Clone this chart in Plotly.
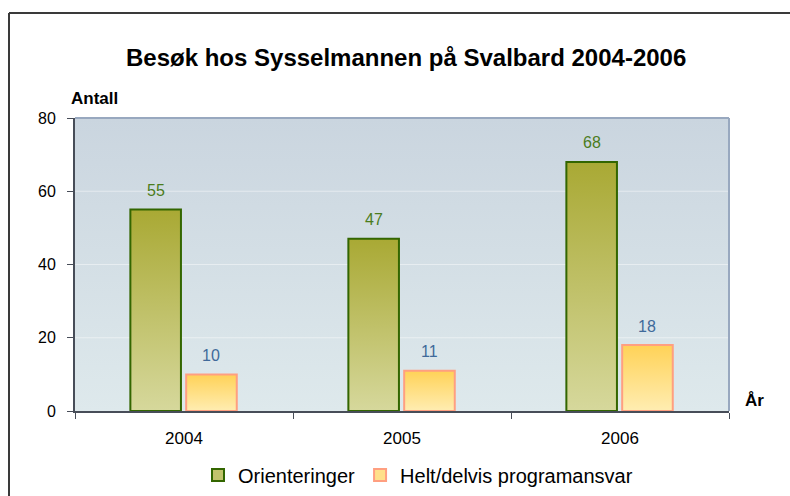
import plotly.graph_objects as go

# ---------------- data ----------------
years = ["2004", "2005", "2006"]
orienteringer = [55, 47, 68]
programansvar = [10, 11, 18]
y_ticks = [0, 20, 40, 60, 80]
series_names = ["Orienteringer", "Helt/delvis programansvar"]
title_text = "Besøk hos Sysselmannen på Svalbard 2004-2006"
y_title = "Antall"
x_title = "År"

# ---------------- style ----------------
FONT = "Liberation Sans, Arial, sans-serif"
W, H = 790, 496
# plot area in screen pixels
PL, PR, PT, PB = 75, 729, 118, 411
ML, MT = PL, PT
MR, MB = W - PR, H - PB
PW, PH = PR - PL, PB - PT


def px(x):
    return (x - PL) / PW


def py(y):
    return (PB - y) / PH


BAR_W = 0.232
OFFSETS = [-0.246, 0.010]
series = [
    dict(values=orienteringer, name=series_names[0], line="#336600",
         grad=[[0, "#d6d89c"], [1, "#a9a934"]], legend="#c2c36c", label="#4b7c1c"),
    dict(values=programansvar, name=series_names[1], line="#ff9f80",
         grad=[[0, "#ffedb2"], [1, "#ffd257"]], legend="#ffe08a", label="#3f6a9a"),
]
BG_GRAD = [[0, "#dee9ec"], [1, "#cad5df"]]

x_min, x_max = -0.5, len(years) - 0.5
y_min, y_max = y_ticks[0], y_ticks[-1]

fig = go.Figure()

# plot-area gradient background
fig.add_trace(go.Scatter(
    x=[x_min, x_min, x_max, x_max, x_min],
    y=[y_min, y_max, y_max, y_min, y_min],
    fill="toself", mode="none",
    fillgradient=dict(type="vertical", colorscale=BG_GRAD),
    showlegend=False, hoverinfo="skip"))

# gridlines (above background, below bars)
for t in y_ticks[1:-1]:
    fig.add_trace(go.Scatter(
        x=[x_min, x_max], y=[t, t], mode="lines",
        line=dict(color="rgba(255,255,255,0.45)", width=1),
        showlegend=False, hoverinfo="skip"))

# bars with vertical gradient
annotations = []
for s, off in zip(series, OFFSETS):
    for i, (yr, v) in enumerate(zip(years, s["values"])):
        x0, x1 = i + off, i + off + BAR_W
        fig.add_trace(go.Scatter(
            x=[x0, x0, x1, x1, x0], y=[0, v, v, 0, 0],
            fill="toself", mode="lines",
            line=dict(color=s["line"], width=2),
            fillgradient=dict(type="vertical", colorscale=s["grad"]),
            showlegend=False, name=s["name"],
            hovertemplate=f"{s['name']}<br>{yr}: {v}<extra></extra>"))
        annotations.append(dict(
            x=(x0 + x1) / 2, y=v, xref="x", yref="y", text=str(v),
            showarrow=False, yshift=19, yanchor="middle",
            font=dict(family=FONT, size=16, color=s["label"])))

# legend-only entries
for s in series:
    fig.add_trace(go.Scatter(
        x=[None], y=[None], mode="markers", name=s["name"],
        marker=dict(symbol="square", size=12, color=s["legend"],
                    line=dict(color=s["line"], width=2))))

# titles
annotations += [
    dict(text=f"<b>{title_text}</b>", xref="paper", yref="paper",
         x=px(406), y=py(57), showarrow=False,
         xanchor="center", yanchor="middle",
         font=dict(family=FONT, size=24, color="#000000")),
    dict(text=f"<b>{y_title}</b>", xref="paper", yref="paper",
         x=px(69), y=py(98), showarrow=False,
         xanchor="left", yanchor="middle",
         font=dict(family=FONT, size=17, color="#000000")),
    dict(text=f"<b>{x_title}</b>", xref="paper", yref="paper",
         x=px(754), y=py(400), showarrow=False,
         xanchor="center", yanchor="middle",
         font=dict(family=FONT, size=17, color="#000000")),
]

shapes = [
    # outer chart border: only top and left edges fall inside the picture
    dict(type="line", xref="paper", yref="paper",
         x0=px(9), x1=px(900), y0=py(13), y1=py(13),
         line=dict(color="#3a3a3a", width=2)),
    dict(type="line", xref="paper", yref="paper",
         x0=px(9), x1=px(9), y0=py(13), y1=py(600),
         line=dict(color="#3a3a3a", width=2)),
    # top and right plot-area border
    dict(type="line", xref="paper", yref="paper", x0=0, x1=1, y0=1, y1=1,
         line=dict(color="#98a8bf", width=2)),
    dict(type="line", xref="paper", yref="paper", x0=1, x1=1, y0=0, y1=1,
         line=dict(color="#98a8bf", width=2)),
]

fig.update_layout(
    width=W, height=H,
    margin=dict(l=ML, r=MR, t=MT, b=MB, autoexpand=False),
    paper_bgcolor="#ffffff", plot_bgcolor="rgba(0,0,0,0)",
    font=dict(family=FONT, size=16, color="#000000"),
    showlegend=True,
    legend=dict(orientation="h", x=px(418), xanchor="center",
                y=py(475), yanchor="middle",
                font=dict(family=FONT, size=20, color="#000000"),
                bgcolor="rgba(0,0,0,0)", itemclick=False),
    annotations=annotations,
    shapes=shapes,
    xaxis=dict(range=[x_min, x_max], tickvals=list(range(len(years))),
               ticktext=years, ticks="outside", ticklen=11,
               tickcolor="rgba(0,0,0,0)",
               minor=dict(tickvals=[i - 0.5 for i in range(len(years) + 1)],
                          ticks="outside", ticklen=6, tickcolor="#474d58",
                          tickwidth=1, showgrid=False),
               showline=True, linecolor="#474d58", linewidth=2,
               showgrid=False, zeroline=False, fixedrange=True,
               tickfont=dict(family=FONT, size=17, color="#000000")),
    yaxis=dict(range=[y_min, y_max], tickvals=y_ticks, ticks="outside",
               ticklen=6, tickcolor="#474d58", ticklabelstandoff=8,
               showline=True, linecolor="#474d58", linewidth=2,
               showgrid=False, zeroline=False, fixedrange=True,
               tickfont=dict(family=FONT, size=16, color="#000000")),
)

# the page's default 8px body margin and scrollbars would shift/cover the figure
fig.write_html(
    "out.html", config={"displayModeBar": False},
    post_script=("document.body.style.margin='0';"
                 "document.body.style.overflow='hidden';"
                 "document.documentElement.style.overflow='hidden';"))
